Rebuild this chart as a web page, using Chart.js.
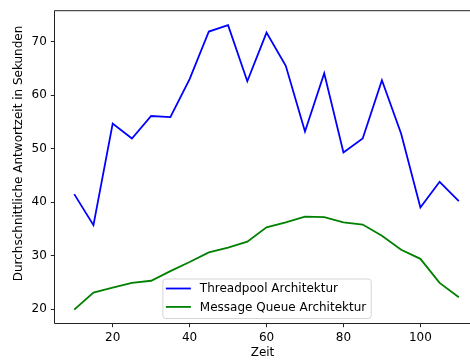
<!DOCTYPE html>
<html><head><meta charset="utf-8">
<script src="https://cdn.jsdelivr.net/npm/chart.js@4"></script>
<style>
html,body{margin:0;padding:0;background:#fff;overflow:hidden;}
</style></head>
<body><canvas id="c" width="470" height="362" style="display:block;width:470px;height:362px"></canvas>
<script>
const zeit = [10,15,20,25,30,35,40,45,50,55,60,65,70,75,80,85,90,95,100,105,110];
const threadpool = [41.5,35.7,54.7,51.9,56.1,55.9,63.0,71.9,73.1,62.6,71.7,65.5,53.2,64.1,49.3,51.9,62.8,52.8,39.0,43.8,40.2];
const messageQueue = [19.9,23.1,24.0,24.9,25.3,27.1,28.8,30.6,31.5,32.6,35.3,36.2,37.3,37.2,36.2,35.8,33.7,31.1,29.4,24.9,22.2];
const xTicks = [20,40,60,80,100];
const yTicks = [20,30,40,50,60,70];
const seriesLabels = ['Threadpool Architektur','Message Queue Architektur'];
const xTitle = 'Zeit';
const yTitle = 'Durchschnittliche Antwortzeit in Sekunden';

const FONT = 'DejaVu Sans';
const frame = {
  id:'frame',
  afterDraw(chart){
    const {ctx, chartArea:a} = chart;
    ctx.save();
    ctx.strokeStyle = '#222'; ctx.lineWidth = 1;
    ctx.beginPath();
    ctx.moveTo(a.left-0.5, a.bottom+0.5); ctx.lineTo(a.left-0.5, a.top-0.5); ctx.lineTo(a.right, a.top-0.5);
    ctx.moveTo(a.left-0.5, a.bottom+0.5); ctx.lineTo(a.right, a.bottom+0.5);
    ctx.stroke();
    // y axis title
    ctx.save();
    ctx.translate(19, 153.5); ctx.rotate(-Math.PI/2);
    ctx.font = '12px "'+FONT+'"'; ctx.fillStyle = '#000';
    ctx.textAlign = 'center'; ctx.textBaseline = 'middle';
    ctx.fillText(yTitle, 0, 0);
    ctx.restore();
    // legend (lower center of the axes)
    ctx.font = '12px "'+FONT+'"';
    const tw = Math.max(...chart.data.datasets.map(d=>ctx.measureText(d.label).width));
    const w = tw + 42, h = 39.5;
    const cx = chart.scales.x.getPixelForValue(60);
    const x0 = cx - w/2, y0 = a.bottom - 5 - h;
    ctx.globalAlpha = 0.8;
    ctx.fillStyle = '#fff';
    ctx.beginPath(); ctx.roundRect(x0+0.5, y0+0.5, w, h, 3); ctx.fill();
    ctx.strokeStyle = '#cccccc'; ctx.lineWidth = 1; ctx.stroke();
    ctx.globalAlpha = 1;
    chart.data.datasets.forEach((d,i)=>{
      const yy = y0 + 10 + i*18.4;
      ctx.strokeStyle = d.borderColor; ctx.lineWidth = 1.8;
      ctx.beginPath(); ctx.moveTo(x0+3.5, yy); ctx.lineTo(x0+28.5, yy); ctx.stroke();
      ctx.fillStyle = '#000'; ctx.textBaseline = 'middle'; ctx.textAlign='left';
      ctx.fillText(d.label, x0+37.5, yy+0.5);
    });
    ctx.restore();
  }
};

new Chart(document.getElementById('c'), {
  type:'line',
  data:{
    datasets:[
      {label:seriesLabels[0], data:zeit.map((x,i)=>({x, y:threadpool[i]})), borderColor:'#0000ff', borderWidth:1.8, pointRadius:0, tension:0, fill:false},
      {label:seriesLabels[1], data:zeit.map((x,i)=>({x, y:messageQueue[i]})), borderColor:'#008000', borderWidth:1.8, pointRadius:0, tension:0, fill:false}
    ]
  },
  options:{
    responsive:false, animation:false, devicePixelRatio:1,
    layout:{padding:{left:0, right:0, top:8, bottom:0}},
    plugins:{legend:{display:false}, tooltip:{enabled:false}},
    scales:{
      x:{type:'linear', min:5, max:112.9,
        afterBuildTicks(s){ s.ticks = xTicks.map(v=>({value:v})); },
        afterFit(s){ s.height = 39; },
        grid:{display:true, drawOnChartArea:false, tickLength:4.2, tickColor:'#222', tickWidth:1},
        border:{display:false},
        ticks:{color:'#000', font:{family:FONT, size:12}, padding:3, maxRotation:0},
        title:{display:true, text:xTitle, color:'#000', font:{family:FONT, size:12}, padding:{top:1.8, bottom:1.8}}
      },
      y:{type:'linear', min:17.4, max:75.7,
        afterBuildTicks(s){ s.ticks = yTicks.map(v=>({value:v})); },
        afterFit(s){ s.width = 55; },
        grid:{display:true, drawOnChartArea:false, tickLength:4.2, tickColor:'#222', tickWidth:1},
        border:{display:false},
        ticks:{color:'#000', font:{family:FONT, size:12}, padding:4},
        title:{display:false, text:yTitle}
      }
    }
  },
  plugins:[frame]
});
</script></body></html>
